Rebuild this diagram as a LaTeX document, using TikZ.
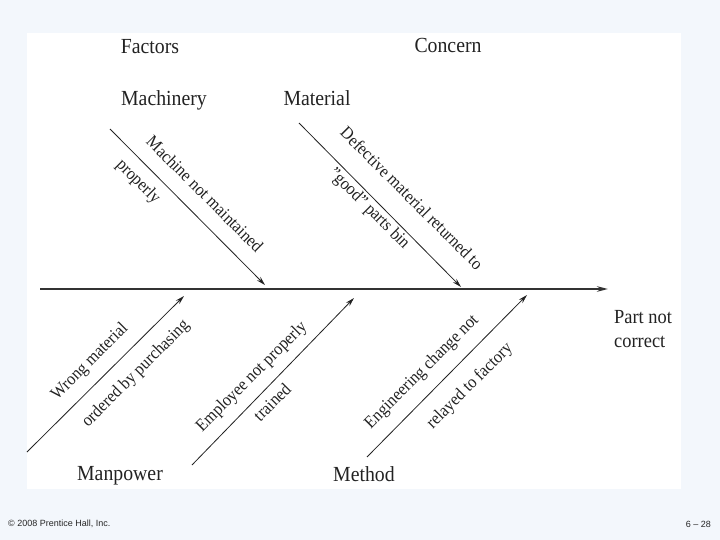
\documentclass[tikz,border=0pt]{standalone}
\usepackage{fontspec}
\usepackage{graphicx}
\setmainfont{Liberation Serif}
\newfontfamily\footfont{Liberation Sans}
\usetikzlibrary{arrows.meta}
\definecolor{bgblue}{HTML}{F3F7FC}
\definecolor{inkgray}{HTML}{222222}
\newcommand{\narrowtext}[1]{\scalebox{0.92}[1]{#1}}
\begin{document}
\begin{tikzpicture}[x=1pt,y=-1pt,
  hdr/.style={font=\fontsize{21.5}{25}\selectfont, inner sep=0pt, anchor=base, text=inkgray},
  lbl/.style={font=\fontsize{17.5}{21}\selectfont, inner sep=0pt, text=inkgray},
  cause/.style={-{Stealth[length=9pt,width=5pt]}, line width=0.8pt, draw=inkgray},
  spinestyle/.style={-{Stealth[length=11pt,width=5.5pt]}, line width=1.8pt, draw=black!80},
  foot/.style={font=\footfont\fontsize{9}{10}\selectfont, inner sep=0pt, text=black!85}]
\fill[bgblue] (0,0) rectangle (720,540);
\useasboundingbox (0,0) rectangle (720,540);
\fill[white] (27,33) rectangle (681,489);

% headers
\node[hdr] (factors) at (150,54) {\narrowtext{Factors}};
\node[hdr] (concern) at (448,53) {\narrowtext{Concern}};
\node[hdr] (machinery) at (164,106) {\narrowtext{Machinery}};
\node[hdr] (material) at (317,106) {\narrowtext{Material}};
\node[hdr] (manpower) at (120,480) {\narrowtext{Manpower}};
\node[hdr] (method) at (364,481) {\narrowtext{Method}};
\node[font=\fontsize{20}{24}\selectfont, inner sep=0pt, anchor=north west, align=left, text=inkgray] (effect) at (614,310) {\narrowtext{Part not}\\\narrowtext{correct}};

% spine
\coordinate (sp0) at (40,289);
\coordinate (sp1) at (608,289);
\draw[spinestyle] (sp0) -- (sp1);

% cause arrows
\coordinate (ma0) at (110,129);  \coordinate (ma1) at (265,285);
\coordinate (mt0) at (299,123);  \coordinate (mt1) at (461,287);
\coordinate (mp0) at (27,452);   \coordinate (mp1) at (184,296);
\coordinate (em0) at (192,465);  \coordinate (em1) at (354,298);
\coordinate (me0) at (367,457);  \coordinate (me1) at (527,295);
\draw[cause] (ma0) -- (ma1);
\draw[cause] (mt0) -- (mt1);
\draw[cause] (mp0) -- (mp1);
\draw[cause] (em0) -- (em1);
\draw[cause] (me0) -- (me1);

% labels
\node[lbl, rotate=-45] (l1) at (205,194) {\narrowtext{Machine not maintained}};
\node[lbl, rotate=-45] (l2) at (138,182) {\narrowtext{properly}};
\node[lbl, rotate=-45] (l3) at (412,198) {\narrowtext{Defective material returned to}};
\node[lbl, rotate=-45] (l4) at (369,209) {\narrowtext{"good" parts bin}};
\node[lbl, rotate=45] (l5) at (90,362) {\narrowtext{Wrong material}};
\node[lbl, rotate=45] (l6) at (136,374) {\narrowtext{ordered by purchasing}};
\node[lbl, rotate=45] (l7) at (252,377) {\narrowtext{Employee not properly}};
\node[lbl, rotate=45] (l8) at (272,402) {\narrowtext{trained}};
\node[lbl, rotate=45] (l9) at (422,372) {\narrowtext{Engineering change not}};
\node[lbl, rotate=45] (l10) at (470,386) {\narrowtext{relayed to factory}};

% footer
\node[foot, anchor=west] (copy) at (8,524) {© 2008 Prentice Hall, Inc.};
\node[foot, anchor=east] (page) at (711,524) {6 – 28};
\end{tikzpicture}
\end{document}
